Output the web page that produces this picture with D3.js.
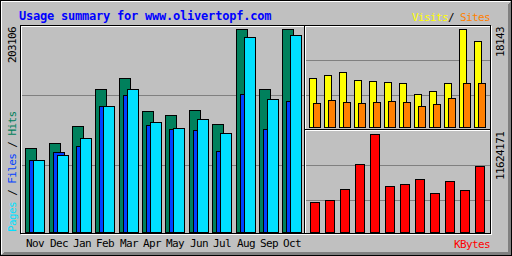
<!DOCTYPE html>
<html>
<head>
<meta charset="utf-8">
<script src="https://cdn.jsdelivr.net/npm/d3@7"></script>
<style>
  html, body { margin: 0; padding: 0; background: #c0c0c0; }
  svg { display: block; }
  text { font-family: "DejaVu Sans Mono", "Liberation Mono", monospace; }
</style>
</head>
<body>
<svg id="chart" width="512" height="256"></svg>
<script>
const months = ['Nov', 'Dec', 'Jan', 'Feb', 'Mar', 'Apr', 'May', 'Jun', 'Jul', 'Aug', 'Sep', 'Oct'];
const hits = [84120, 89010, 106230, 143150, 154020, 121180, 117040, 122270, 108110, 203106, 143010, 202880];
const files = [72040, 80040, 86040, 126070, 137070, 107050, 103050, 102050, 81040, 138070, 103050, 131070];
const pages = [72040, 77040, 94050, 126070, 143070, 110060, 104050, 113060, 99050, 195100, 133070, 197100];
const visits = [9071, 9627, 10182, 8701, 8516, 8331, 8146, 6109, 6665, 8146, 18143, 15921];
const sites = [4450, 4990, 4630, 4440, 4620, 4820, 4635, 3890, 4260, 5370, 8150, 8140];
const kbytes = [3558420, 3795650, 5100400, 8065750, 11624171, 5456240, 5693470, 6286540, 4625950, 6049310, 4981790, 7828520];

const maxHits = 203106;
const maxVisits = 18143;
const maxKbytes = 11624171;

const title = 'Usage summary for www.olivertopf.com';

const colors = {
  bg: '#c0c0c0', dkgrey: '#808080', white: '#ffffff', black: '#000000',
  hits: '#00805c', files: '#0040ff', pages: '#00e0ff',
  visits: '#ffff00', sites: '#ff8000', kbytes: '#ff0000', title: '#0000ff'
};

const svg = d3.select('#chart');

// pixel line helper (crisp 1px)
function hline(y, x1, x2, color) {
  svg.append('rect').attr('x', x1).attr('y', y).attr('width', x2 - x1 + 1).attr('height', 1).attr('fill', color);
}
function vline(x, y1, y2, color) {
  svg.append('rect').attr('x', x).attr('y', y1).attr('width', 1).attr('height', y2 - y1 + 1).attr('fill', color);
}

// background + outer bevel
svg.append('rect').attr('width', 512).attr('height', 256).attr('fill', colors.bg);
hline(0, 0, 511, colors.black);
hline(255, 0, 511, colors.black);
vline(0, 0, 255, colors.black);
vline(511, 0, 255, colors.black);
hline(1, 1, 509, colors.white);
vline(1, 1, 253, colors.white);
for (let i = 1; i <= 3; i++) {
  hline(255 - i, i + 1, 511 - i, colors.dkgrey);
  vline(511 - i, i + 1, 255 - i, colors.dkgrey);
}

// inner panel
svg.append('rect').attr('x', 21.5).attr('y', 26.5).attr('width', 470).attr('height', 208)
  .attr('fill', 'none').attr('stroke', colors.white);
svg.append('rect').attr('x', 20.5).attr('y', 25.5).attr('width', 470).attr('height', 208)
  .attr('fill', 'none').attr('stroke', colors.black);

// section dividers
vline(304, 26, 232, colors.black);
vline(305, 26, 232, colors.white);
hline(129, 305, 489, colors.black);
hline(130, 305, 489, colors.white);

// scales
const xMain = d3.scaleBand().domain(months).range([25.3, 25.3 + 12 * 23.36]);
const xSide = d3.scaleBand().domain(months).range([309, 309 + 12 * 15]);
const yMain = d3.scaleLinear().domain([0, maxHits]).range([232, 29]);
const yVisits = d3.scaleLinear().domain([0, maxVisits]).range([127, 29]);
const yKbytes = d3.scaleLinear().domain([0, maxKbytes]).range([232, 134]);

// grid lines
[95, 165].forEach(y => hline(y, 22, 303, colors.dkgrey));
[60, 95, 165, 200].forEach(y => hline(y, 306, 489, colors.dkgrey));

// bar: left column, width in px incl. border, top row, bottom row
function bars(values, xFn, w, y, base, fill) {
  svg.append('g').selectAll('rect')
    .data(values)
    .join('rect')
    .attr('x', (d, i) => xFn(i) + 0.5)
    .attr('y', d => Math.round(y(d)) + 0.5)
    .attr('width', w - 1)
    .attr('height', d => base - Math.round(y(d)))
    .attr('fill', fill)
    .attr('stroke', colors.black)
    .attr('stroke-width', 1);
}

const colMain = i => Math.round(xMain(months[i]));
const colSide = i => Math.round(xSide(months[i]));

bars(hits, i => colMain(i), 12, yMain, 232, colors.hits);
bars(files, i => colMain(i) + 4, 12, yMain, 232, colors.files);
bars(pages, i => colMain(i) + 8, 12, yMain, 232, colors.pages);

bars(visits, i => colSide(i), 8, yVisits, 127, colors.visits);
bars(sites, i => colSide(i) + 4, 8, yVisits, 127, colors.sites);

bars(kbytes, i => colSide(i) + 1, 10, yKbytes, 232, colors.kbytes);

// text
const small = { size: '11px', spacing: '-0.6px' };

svg.append('text')
  .attr('x', 19)
  .attr('y', 20)
  .style('font-size', '12px')
  .style('font-weight', 'bold')
  .style('letter-spacing', '-0.22px')
  .attr('fill', colors.title)
  .text(title);

// month labels
svg.append('g').selectAll('text')
  .data(months)
  .join('text')
  .attr('x', (d, i) => colMain(i) + 1)
  .attr('y', 247)
  .style('font-size', small.size)
  .style('letter-spacing', small.spacing)
  .attr('fill', colors.black)
  .text(d => d);

// legend top-right
const legend = svg.append('text')
  .attr('y', 21)
  .style('font-size', small.size)
  .style('letter-spacing', small.spacing);
legend.append('tspan').attr('x', 412).attr('fill', colors.visits).text('Visits');
legend.append('tspan').attr('x', 448).attr('fill', colors.black).text('/');
legend.append('tspan').attr('x', 460).attr('fill', colors.sites).text('Sites');

// KBytes label
svg.append('text')
  .attr('x', 454)
  .attr('y', 248)
  .style('font-size', small.size)
  .style('letter-spacing', small.spacing)
  .attr('fill', colors.kbytes)
  .text('KBytes');

// vertical labels
function upText(x, y) {
  return svg.append('text')
    .attr('transform', `translate(${x},${y}) rotate(-90)`)
    .style('font-size', small.size)
    .style('letter-spacing', small.spacing);
}

const axisLabel = upText(16, 232);
axisLabel.append('tspan').attr('fill', colors.pages).text('Pages');
axisLabel.append('tspan').attr('fill', colors.black).text(' / ');
axisLabel.append('tspan').attr('fill', colors.files).text('Files');
axisLabel.append('tspan').attr('fill', colors.black).text(' / ');
axisLabel.append('tspan').attr('fill', colors.hits).text('Hits');

upText(16, 63).attr('fill', colors.black).text(String(maxHits));
upText(504, 57).attr('fill', colors.black).text(String(maxVisits));
upText(504, 180).attr('fill', colors.black).text(String(maxKbytes));
</script>
</body>
</html>
